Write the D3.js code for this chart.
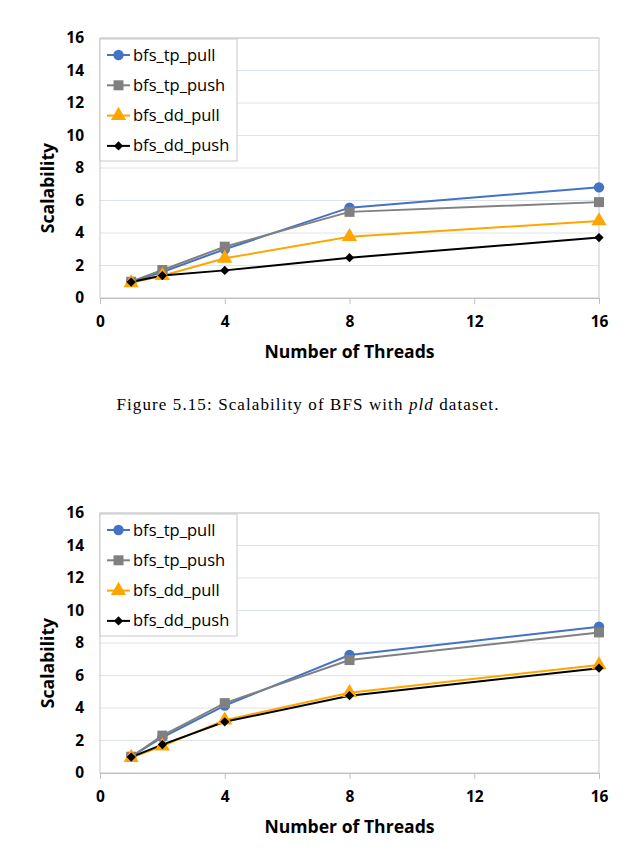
<!DOCTYPE html>
<html><head><meta charset="utf-8">
<script src="https://cdn.jsdelivr.net/npm/d3@7"></script>
<style>
body{margin:0;background:#fff;}
svg{display:block;}
</style></head>
<body>
<svg id="chart" width="627" height="862"></svg>
<script>
const threads = [1, 2, 4, 8, 16];
const seriesNames = ["bfs_tp_pull", "bfs_tp_push", "bfs_dd_pull", "bfs_dd_push"];
const xTicks = [0, 4, 8, 12, 16];
const yTicks = [0, 2, 4, 6, 8, 10, 12, 14, 16];

// Chart 1 (pld dataset)
const pld_tp_pull = [1.0, 1.6, 3.0, 5.56, 6.81];
const pld_tp_push = [1.0, 1.72, 3.16, 5.3, 5.9];
const pld_dd_pull = [0.93, 1.37, 2.44, 3.77, 4.74];
const pld_dd_push = [0.98, 1.38, 1.7, 2.48, 3.72];

// Chart 2
const c2_tp_pull = [1.0, 2.2, 4.15, 7.26, 9.0];
const c2_tp_push = [1.0, 2.3, 4.3, 6.95, 8.65];
const c2_dd_pull = [0.95, 1.65, 3.25, 4.94, 6.65];
const c2_dd_push = [0.98, 1.75, 3.15, 4.76, 6.45];

const caption1 = ["Figure 5.15: Scalability of BFS with ", "pld", " dataset."];

const colors = ["#4472C4", "#808080", "#FFA500", "#000000"];
const markers = ["circle", "square", "triangle", "diamond"];

const svg = d3.select("#chart");
const sans = "'Open Sans', Lato, sans-serif";

function markerPath(type) {
  const sym = {circle: d3.symbolCircle, square: d3.symbolSquare, triangle: d3.symbolTriangle, diamond: d3.symbolDiamond2}[type];
  const size = {circle: 85, square: 100, triangle: 100, diamond: 55}[type];
  return d3.symbol().type(sym).size(size)();
}

function drawChart(top, seriesData) {
  const left = 100, right = 599, plotTop = top, plotBottom = top + 260;
  const x = d3.scaleLinear().domain([0, 16]).range([left, right]);
  const y = d3.scaleLinear().domain([0, 16]).range([plotBottom, plotTop]);
  const g = svg.append("g");

  // gridlines
  g.selectAll(".grid").data(yTicks.filter(v => v > 0)).enter().append("line")
    .attr("x1", left).attr("x2", right)
    .attr("y1", d => y(d)).attr("y2", d => y(d))
    .attr("stroke", "#dde3ea").attr("stroke-width", 1);

  // plot border
  g.append("rect").attr("x", left).attr("y", plotTop).attr("width", right - left).attr("height", plotBottom - plotTop)
    .attr("fill", "none").attr("stroke", "#c8c8c8").attr("stroke-width", 1);

  // x axis
  const xAxis = d3.axisBottom(x).tickValues(xTicks).tickSize(6).tickPadding(12).tickFormat(d3.format("d"));
  const xa = g.append("g").attr("transform", `translate(0,${plotBottom})`).call(xAxis);
  xa.select(".domain").attr("stroke", "#bfbfbf");
  xa.selectAll(".tick line").attr("stroke", "#bfbfbf");
  xa.selectAll("text").attr("font-family", sans).attr("font-weight", "bold").attr("font-size", 15.5).attr("fill", "#000");

  // y axis (labels only)
  const yAxis = d3.axisLeft(y).tickValues(yTicks).tickSize(0).tickPadding(16).tickFormat(d3.format("d"));
  const ya = g.append("g").attr("transform", `translate(${left},0)`).call(yAxis);
  ya.select(".domain").remove();
  ya.selectAll("text").attr("font-family", sans).attr("font-weight", "bold").attr("font-size", 15.5).attr("fill", "#000");

  // axis titles
  g.append("text").attr("x", (left + right) / 2).attr("y", plotBottom + 60)
    .attr("text-anchor", "middle").attr("font-family", sans).attr("font-weight", "bold").attr("font-size", 17.6)
    .text("Number of Threads");
  g.append("text").attr("transform", `translate(54,${plotTop + 150}) rotate(-90)`)
    .attr("text-anchor", "middle").attr("font-family", sans).attr("font-weight", "bold").attr("font-size", 17.6)
    .text("Scalability");

  // lines
  const line = d3.line().x((d, i) => x(threads[i])).y(d => y(d));
  seriesData.forEach((vals, si) => {
    g.append("path").datum(vals).attr("d", line).attr("fill", "none")
      .attr("stroke", colors[si]).attr("stroke-width", 2);
  });
  seriesData.forEach((vals, si) => {
    g.selectAll(null).data(vals).enter().append("path")
      .attr("d", markerPath(markers[si]))
      .attr("transform", (d, i) => `translate(${x(threads[i])},${y(d)})`)
      .attr("fill", colors[si]);
  });

  // legend
  const lg = g.append("g");
  lg.append("rect").attr("x", left).attr("y", plotTop + 1).attr("width", 137).attr("height", 122)
    .attr("fill", "#fff").attr("stroke", "#c8c8c8");
  seriesNames.forEach((name, si) => {
    const ly = plotTop + 17 + si * 30.3;
    lg.append("line").attr("x1", left + 7).attr("x2", left + 30).attr("y1", ly).attr("y2", ly)
      .attr("stroke", colors[si]).attr("stroke-width", 2);
    lg.append("path").attr("d", markerPath(markers[si])).attr("transform", `translate(${left + 18.5},${ly})`)
      .attr("fill", colors[si]);
    lg.append("text").attr("x", left + 33).attr("y", ly + 5.5).attr("font-family", sans)
      .attr("font-size", 16.5).attr("fill", "#000").text(name);
  });
}

drawChart(38, [pld_tp_pull, pld_tp_push, pld_dd_pull, pld_dd_push]);
drawChart(513, [c2_tp_pull, c2_tp_push, c2_dd_pull, c2_dd_push]);

const cap = svg.append("text").attr("x", 308).attr("y", 410).attr("text-anchor", "middle")
  .attr("font-family", "'Liberation Serif', 'DejaVu Serif', serif").attr("font-size", 17)
  .attr("letter-spacing", 1.1).attr("fill", "#000");
cap.append("tspan").text(caption1[0]);
cap.append("tspan").attr("font-style", "italic").text(caption1[1]);
cap.append("tspan").text(caption1[2]);
</script>
</body></html>
